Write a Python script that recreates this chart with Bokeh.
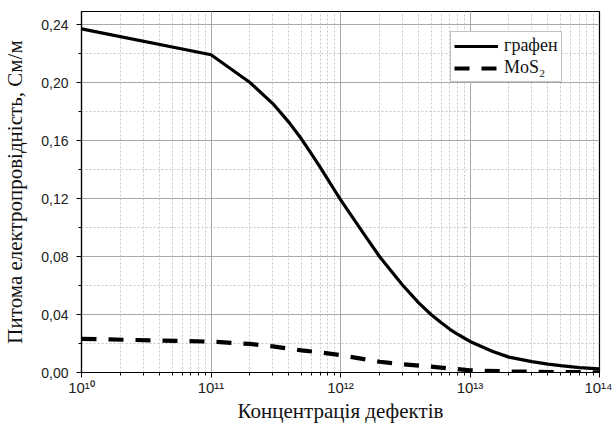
from bokeh.plotting import figure
from bokeh.models import FixedTicker, CustomJSTickFormatter, Legend, LegendItem, Range1d
from bokeh.embed import file_html
from bokeh.resources import INLINE

concentration_g = [1e10, 1e11, 2e11, 3e11, 4e11, 5e11, 6e11, 7e11, 8e11, 9e11,
                   1e12, 1.5e12, 2e12, 3e12, 4e12, 5e12, 6e12, 7e12, 8e12, 9e12,
                   1e13, 1.5e13, 2e13, 3e13, 4e13, 5e13, 7e13, 1e14]
graphene = [0.237, 0.2192, 0.200, 0.1855, 0.1725, 0.161, 0.1505, 0.1413, 0.1330, 0.1257,
            0.1192, 0.0962, 0.0800, 0.0605, 0.0482, 0.0400, 0.0343, 0.0298, 0.0264, 0.0238,
            0.0214, 0.0145, 0.0106, 0.0075, 0.0058, 0.0047, 0.0034, 0.0025]
concentration_m = [1e10, 1e11, 2e11, 3e11, 5e11, 7e11, 1e12, 2e12, 3e12, 5e12, 7e12,
                   1e13, 2e13, 3e13, 5e13, 7e13, 1e14]
mos2 = [0.0232, 0.0213, 0.0197, 0.0180, 0.0153, 0.0138, 0.0120, 0.0074, 0.0057, 0.0040, 0.0028,
        0.0015, 0.0007, 0.0005, 0.0003, 0.0002, 0.0001]
y_ticks = [0.0, 0.04, 0.08, 0.12, 0.16, 0.20, 0.24]
y_minor = [0.02, 0.06, 0.10, 0.14, 0.18, 0.22]
labels = ["графен", "MoS₂"]

p = figure(width=612, height=425, output_backend="svg", toolbar_location=None,
           x_axis_type="log", x_range=Range1d(1e10, 1e14), y_range=Range1d(0, 0.249))
p.min_border_left = 80
p.min_border_right = 13
p.min_border_top = 11
p.min_border_bottom = 51
p.outline_line_color = "black"
p.outline_line_width = 1.2

r1 = p.line(concentration_g, graphene, line_color="black", line_width=3.2, line_join="round")
r2 = p.line(concentration_m, mos2, line_color="black", line_width=4.2, line_dash="15 12")

p.yaxis.ticker = FixedTicker(ticks=y_ticks, minor_ticks=y_minor)
p.yaxis.formatter = CustomJSTickFormatter(code="return tick.toFixed(2).replace('.', ',');")
p.xaxis.formatter = CustomJSTickFormatter(code="""
const sup = {'0':'\u2070','1':'\u00b9','2':'\u00b2','3':'\u00b3','4':'\u2074','5':'\u2075','6':'\u2076','7':'\u2077','8':'\u2078','9':'\u2079'};
const e = String(Math.round(Math.log10(tick)));
let s = '';
for (const c of e) { s += sup[c]; }
return '10' + s;
""")

for ax in (p.xaxis, p.yaxis):
    ax.axis_line_color = "black"
    ax.axis_line_width = 1.2
    ax.major_tick_line_color = "black"
    ax.minor_tick_line_color = "black"
    ax.major_label_text_font = "Liberation Sans"
    ax.major_label_text_color = "#222222"
    ax.axis_label_text_font = "Liberation Serif"
    ax.axis_label_text_font_size = "21px"
    ax.axis_label_text_font_style = "normal"
    ax.axis_label_text_color = "#111111"

p.xaxis.major_label_text_font_size = "15px"
p.yaxis.major_label_text_font_size = "14px"

p.xaxis.major_tick_in = 0
p.xaxis.major_tick_out = 5
p.xaxis.minor_tick_in = 0
p.xaxis.minor_tick_out = 3
p.xaxis.major_label_standoff = 1
p.xaxis.axis_label_standoff = 0
p.xaxis.axis_label = "Концентрація дефектів"

p.yaxis.major_tick_in = 0
p.yaxis.major_tick_out = 5
p.yaxis.minor_tick_in = 0
p.yaxis.minor_tick_out = 3
p.yaxis.major_label_standoff = 8
p.yaxis.axis_label_standoff = 11
p.yaxis.axis_label = "Питома електропровідність, См/м"

for g in (p.xgrid, p.ygrid):
    g.grid_line_color = "#a8a8a8"
    g.grid_line_width = 1
    g.minor_grid_line_color = "#c8c8c8"
    g.minor_grid_line_dash = "2 2"
    g.minor_grid_line_width = 1

legend = Legend(items=[LegendItem(label=labels[0], renderers=[r1]),
                       LegendItem(label=labels[1], renderers=[r2])],
                location=(369, 290))
legend.label_text_font = "Liberation Serif"
legend.label_text_font_size = "18px"
legend.label_text_color = "#111111"
legend.glyph_width = 44
legend.glyph_height = 18
legend.label_height = 18
legend.label_standoff = 6
legend.padding = 3
legend.spacing = 1
legend.margin = 0
legend.border_line_color = "#888888"
legend.border_line_width = 1
legend.background_fill_color = "white"
legend.background_fill_alpha = 1
p.add_layout(legend, "center")

open("out.html", "w").write(file_html(p, INLINE))
